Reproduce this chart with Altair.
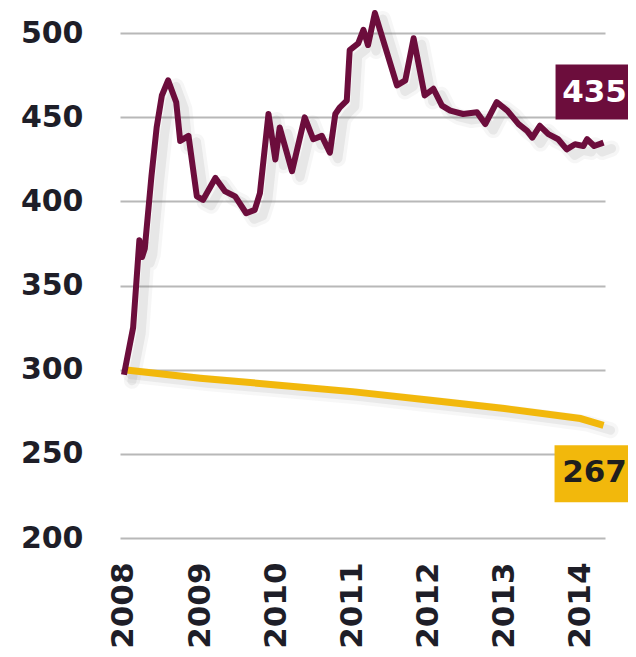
import altair as alt
import pandas as pd

# Purple series (price index)
price_dates = [
    "2008-01-01", "2008-02-14", "2008-03-15", "2008-03-28", "2008-04-10", "2008-05-12",
    "2008-06-06", "2008-07-01", "2008-07-31", "2008-09-08", "2008-09-27", "2008-11-06",
    "2008-12-16", "2009-01-15", "2009-03-15", "2009-05-01", "2009-06-18", "2009-08-10",
    "2009-09-20", "2009-10-15", "2009-11-25", "2009-12-28", "2010-01-18", "2010-03-18",
    "2010-05-18", "2010-06-28", "2010-08-08", "2010-09-16", "2010-10-12", "2010-11-03",
    "2010-12-06", "2010-12-20", "2011-01-30", "2011-02-24", "2011-03-18", "2011-04-20",
    "2011-08-04", "2011-09-13", "2011-10-23", "2011-12-15", "2012-01-26", "2012-03-07",
    "2012-04-16", "2012-06-17", "2012-08-22", "2012-10-01", "2012-11-25", "2013-01-15",
    "2013-03-10", "2013-04-20", "2013-05-15", "2013-06-20", "2013-07-31", "2013-09-16",
    "2013-10-27", "2013-12-06", "2014-01-15", "2014-02-02", "2014-03-08", "2014-04-22",
]
price_values = [
    297, 325, 377, 367, 372, 415,
    444, 463, 472, 459, 436, 439,
    403, 401, 414, 406, 403, 393,
    395, 405, 452, 425, 444, 418,
    450, 437, 439, 429, 452, 456,
    460, 490, 494, 502, 493, 512,
    469, 472, 497, 463, 467, 457,
    454, 452, 453, 446, 459, 454,
    446, 442, 438, 445, 440, 437,
    431, 434, 433, 437, 433, 435,
]

# Yellow series
trend_dates = ["2008-01-01", "2009-01-01", "2010-01-01", "2011-01-01",
               "2012-01-01", "2013-01-01", "2014-01-01", "2014-04-22"]
trend_values = [300, 295, 291, 287, 282, 277, 271, 267]

year_ticks = [2008, 2009, 2010, 2011, 2012, 2013, 2014]
y_ticks = [200, 250, 300, 350, 400, 450, 500]

PURPLE = "#6c0d3c"
YELLOW = "#f2b80c"
FONT = "DejaVu Sans"

df_p = pd.DataFrame({"date": pd.to_datetime(price_dates), "value": price_values})
df_t = pd.DataFrame({"date": pd.to_datetime(trend_dates), "value": trend_values})
last_p = df_p.tail(1).assign(label=lambda d: d["value"].astype(str))
last_t = df_t.tail(1).assign(label=lambda d: d["value"].astype(str))

x_enc = alt.X(
    "date:T",
    scale=alt.Scale(domain=[alt.DateTime(year=2007, month=12, date=13),
                            alt.DateTime(year=2014, month=4, date=29)]),
    axis=alt.Axis(
        values=[alt.DateTime(year=y, month=1, date=1) for y in year_ticks],
        format="%Y", labelAngle=-90, labelFlush=False, labelOverlap=False,
        grid=False, domain=False, ticks=False, labelPadding=24,
        labelFont=FONT, labelFontSize=31, labelFontWeight="bold", labelColor="#1e1e28",
    ),
    title=None,
)
y_enc = alt.Y(
    "value:Q",
    scale=alt.Scale(domain=[200, 515], nice=False, zero=False),
    axis=alt.Axis(
        values=y_ticks, grid=True, gridColor="#b8b8b8", gridWidth=2,
        domain=False, ticks=False, labelPadding=37, labelOverlap=False, labelFlush=False,
        labelFont=FONT, labelFontSize=30, labelFontWeight="bold", labelColor="#1e1e28",
    ),
    title=None,
)

def shadow(df, width, opacity, off):
    return alt.Chart(df).mark_line(
        color="#7a7a7a", opacity=opacity, strokeWidth=width,
        xOffset=off, yOffset=off - 2, strokeJoin="round", strokeCap="round"
    ).encode(x=x_enc, y=y_enc)

layers = [
    shadow(df_t, 16, 0.06, 7), shadow(df_t, 9, 0.10, 7),
    shadow(df_p, 16, 0.07, 8), shadow(df_p, 9, 0.12, 8),
]
line_t = alt.Chart(df_t).mark_line(color=YELLOW, strokeWidth=7).encode(x=x_enc, y=y_enc)
line_p = alt.Chart(df_p).mark_line(color=PURPLE, strokeWidth=6, strokeJoin="round").encode(x=x_enc, y=y_enc)

box_p = alt.Chart(last_p).mark_rect(
    color=PURPLE, xOffset=-48, x2Offset=34, yOffset=-78, y2Offset=-23
).encode(x=x_enc, x2="date:T", y=y_enc, y2="value:Q")
text_p = alt.Chart(last_p).mark_text(
    color="white", font=FONT, fontSize=31, fontWeight="bold",
    dx=-9, dy=-50, align="center", baseline="middle"
).encode(x=x_enc, y=y_enc, text="label:N")

box_t = alt.Chart(last_t).mark_rect(
    color=YELLOW, xOffset=-49, x2Offset=34, yOffset=20, y2Offset=77
).encode(x=x_enc, x2="date:T", y=y_enc, y2="value:Q")
text_t = alt.Chart(last_t).mark_text(
    color="#1e1e1e", font=FONT, fontSize=31, fontWeight="bold",
    dx=-9, dy=48, align="center", baseline="middle"
).encode(x=x_enc, y=y_enc, text="label:N")

chart = alt.layer(
    *layers, line_t, line_p, box_p, text_p, box_t, text_t
).properties(
    width=485, height=530,
    autosize=alt.AutoSizeParams(type="none"),
    padding={"left": 112, "top": 0, "right": 23, "bottom": 110},
    background="white",
).configure_view(stroke=None)

chart.save("out.html", embed_options={"renderer": "svg", "actions": False})
